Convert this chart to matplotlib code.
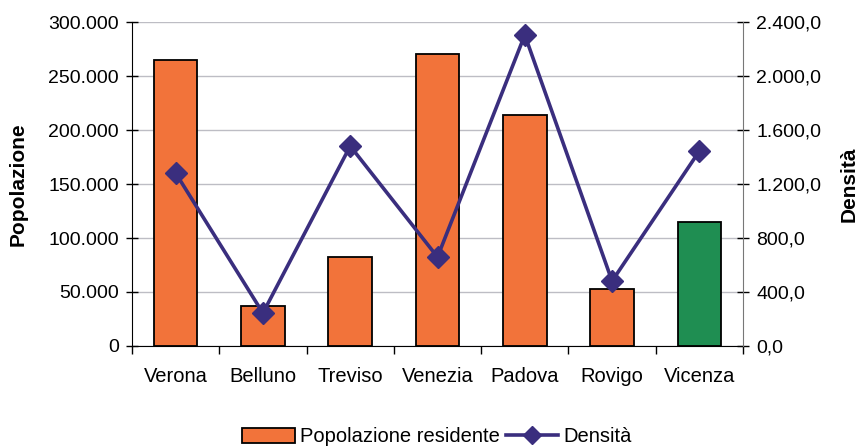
import matplotlib.pyplot as plt
from matplotlib.ticker import FuncFormatter, FixedLocator
from matplotlib.lines import Line2D
from matplotlib.patches import Patch

plt.rcParams['font.family'] = ['Liberation Sans', 'DejaVu Sans']

# data
province = ['Verona', 'Belluno', 'Treviso', 'Venezia', 'Padova', 'Rovigo', 'Vicenza']
popolazione = [264800, 37000, 82400, 270400, 213900, 52800, 114800]
densita = [1281, 244, 1481, 659, 2304, 481, 1444]
bar_colors = ['#F2733A'] * 6 + ['#1F8E52']

line_color = '#3A2E7E'

fig = plt.figure(figsize=(8.6, 4.47), dpi=100)
ax = fig.add_axes([132 / 860, 1 - 346 / 447, (743 - 132) / 860, (346 - 22) / 447])
x = list(range(len(province)))

ax.bar(x, popolazione, width=0.5, color=bar_colors, edgecolor='black', linewidth=1.3, zorder=2)
ax.set_xlim(-0.5, len(province) - 0.5)
ax.set_ylim(0, 300000)
ax.set_yticks(range(0, 300001, 50000))
ax.yaxis.set_major_formatter(FuncFormatter(lambda v, p: f'{int(v):,}'.replace(',', '.')))
ax.grid(axis='y', color='#BDBDC4', linewidth=1, zorder=0)
ax.set_axisbelow(True)

ax.set_xticks(x)
ax.set_xticklabels(province)
ax.xaxis.set_minor_locator(FixedLocator([i + 0.5 for i in range(-1, len(province))]))
ax.tick_params(axis='x', which='major', length=0, pad=15, labelsize=14.5)
ax.tick_params(axis='x', which='minor', length=6, direction='out', width=1)
ax.tick_params(axis='y', direction='inout', length=9, width=1, labelsize=14, pad=5)
for s in ['top', 'right']:
    ax.spines[s].set_visible(False)
ax.spines['left'].set_color('black')
ax.spines['bottom'].set_color('black')
ax.set_ylabel('Popolazione', fontsize=15, fontweight='bold', labelpad=15)

ax2 = ax.twinx()
ax2.plot(x, densita, color=line_color, linewidth=2.6, marker='D', markersize=11, zorder=3)
ax2.set_ylim(0, 2400)
ax2.set_yticks(range(0, 2401, 400))
ax2.yaxis.set_major_formatter(
    FuncFormatter(lambda v, p: f'{v:,.1f}'.replace(',', 'X').replace('.', ',').replace('X', '.')))
ax2.tick_params(axis='y', direction='inout', length=9, width=1, labelsize=14, pad=5)
for s in ['top', 'left', 'bottom']:
    ax2.spines[s].set_visible(False)
ax2.spines['right'].set_color('#777777')
ax2.set_ylabel('Densità', fontsize=15, fontweight='bold', labelpad=13)

handles = [Patch(facecolor='#F2733A', edgecolor='black', linewidth=1.3),
           Line2D([0], [0], color=line_color, linewidth=2.6, marker='D', markersize=9)]
fig.legend(handles, ['Popolazione residente', 'Densità'], loc='center',
           bbox_to_anchor=(437 / 860, 1 - 437 / 447), ncol=2, frameon=False,
           fontsize=14.5, handlelength=2.6, handleheight=0.8, handletextpad=0.25, columnspacing=0.3)

fig.savefig('out.png', dpi=100)
